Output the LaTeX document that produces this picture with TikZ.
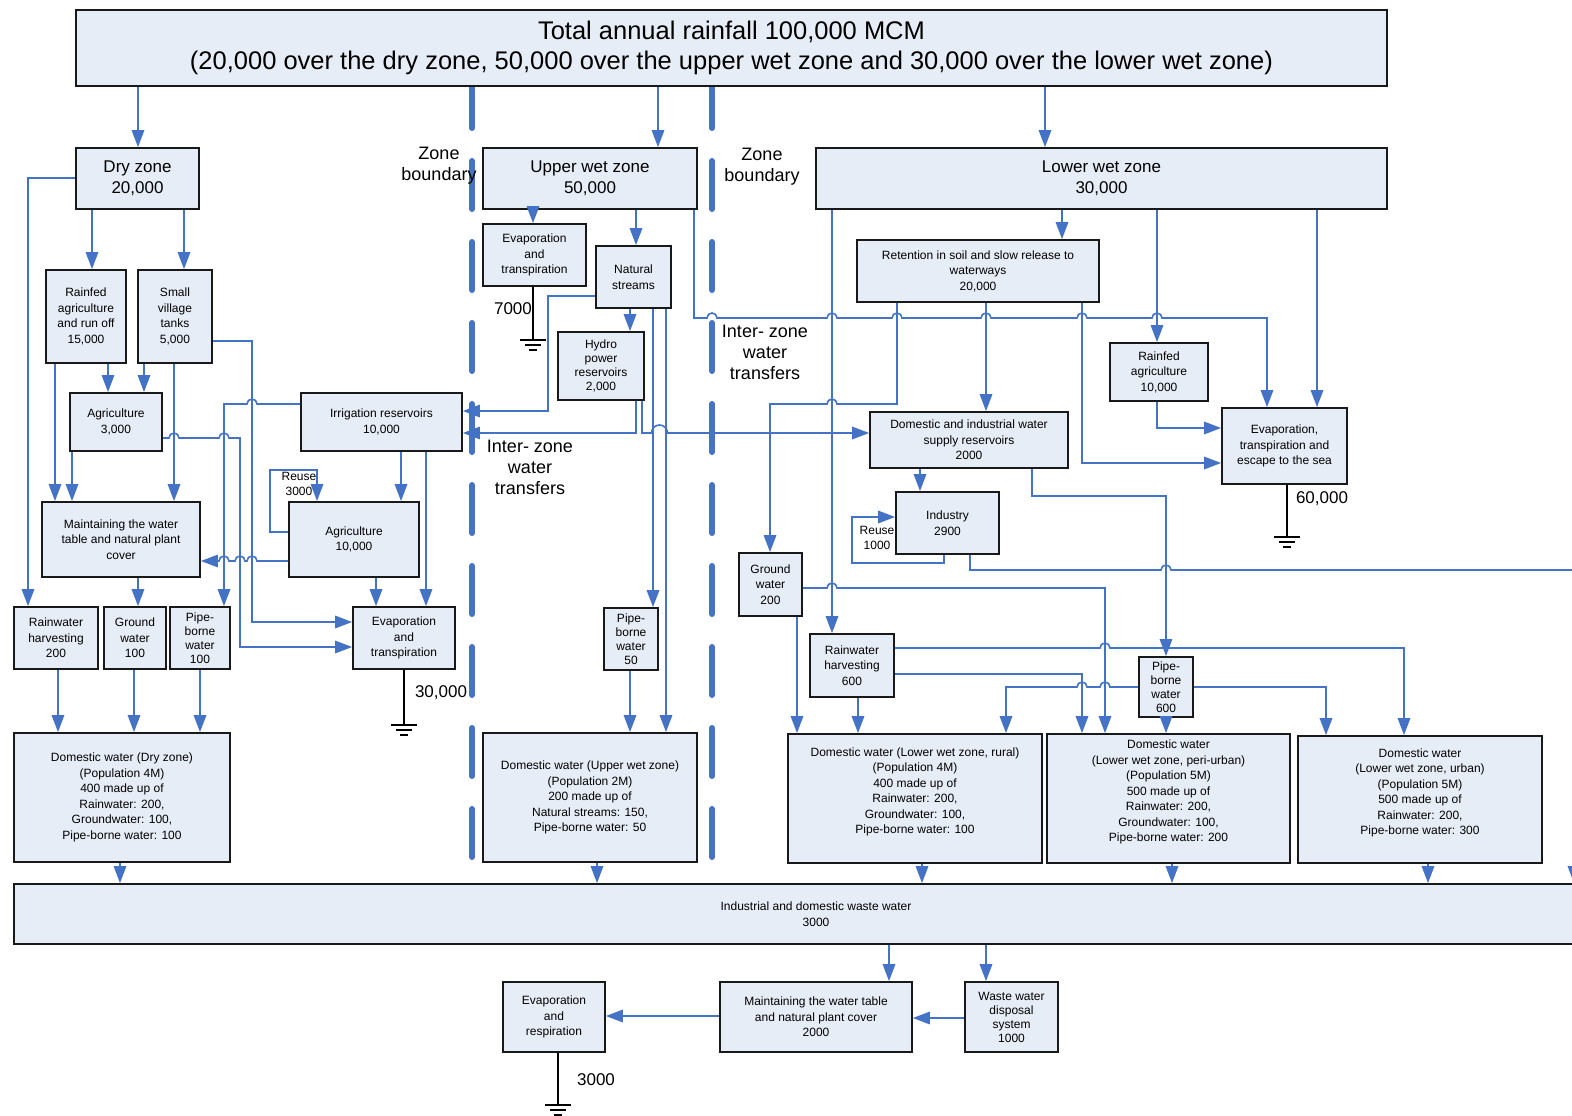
\documentclass[tikz,border=0pt]{standalone}
\usepackage{fontspec}
\setmainfont{Liberation Sans}
\usetikzlibrary{arrows.meta}
\definecolor{lineblue}{RGB}{68,114,196}
\definecolor{zoneblue}{RGB}{70,116,194}
\definecolor{boxfill}{RGB}{231,237,247}
\newcommand\wbox[7][]{\node[box,#1,minimum width={(#5-#3)*1pt},minimum height={(#6-#4)*1pt}] (#2) at ({(#3+#5)/2},{(#4+#6)/2}) {#7};}
\newcommand\gnd[1]{\draw[gline] ([xshift=-13pt]#1) -- ([xshift=13pt]#1) ([xshift=-8pt,yshift=-5pt]#1) -- ([xshift=8pt,yshift=-5pt]#1) ([xshift=-4pt,yshift=-10pt]#1) -- ([xshift=4pt,yshift=-10pt]#1);}
\tikzset{
  box/.style={draw=black!90, line width=1.8pt, fill=boxfill, inner sep=1pt, align=center, font=\fontsize{12}{15.5}\selectfont},
  tight/.style={font=\fontsize{12}{14}\selectfont},
  midtxt/.style={font=\fontsize{17}{21}\selectfont},
  arr/.style={draw=lineblue, line width=1.6pt, -{Triangle[length=17pt,width=12.5pt]}},
  gline/.style={draw=black, line width=1.5pt},
  zoneb/.style={draw=zoneblue, line width=6pt, line cap=round, dash pattern=on 48pt off 33pt, dash phase=6pt},
  lbl/.style={align=center, inner sep=0pt, font=\fontsize{18}{21}\selectfont},
  numlbl/.style={inner sep=0pt, font=\fontsize{17}{20}\selectfont},
  smlbl/.style={align=center, inner sep=0pt, font=\fontsize{12}{14.5}\selectfont},
  hr/.style 2 args={insert path={-- ({#1-5},#2) arc[start angle=180,end angle=360,radius=5]}},
  hl/.style 2 args={insert path={-- ({#1+5},#2) arc[start angle=0,end angle=-180,radius=5]}}
}
\begin{document}
\begin{tikzpicture}[x=1pt,y=-1pt]
\useasboundingbox (0,0) rectangle (1572,1116);
\fill[white] (0,0) rectangle (1572,1116);
\clip (0,0) rectangle (1572,1116);

% zone boundaries
\draw[zoneb] (472,86) -- (472,862);
\draw[zoneb] (712,86) -- (712,862);

% labels
\node[lbl] (zb1) at (439,166) {Zone\\boundary};
\node[lbl] (zb2) at (762,167) {Zone\\boundary};
\node[lbl] (iz1) at (530,467) {Inter- zone\\water\\transfers};
\node[lbl] (iz2) at (765,352) {Inter- zone\\water\\transfers};
\node[smlbl] (ru1) at (299,484) {Reuse\\3000};
\node[smlbl] (ru2) at (877,538) {Reuse\\1000};
\node[numlbl] (n30) at (441,693) {30,000};
\node[numlbl] (n7) at (513,309) {7000};
\node[numlbl] (n60) at (1322,499) {60,000};
\node[numlbl] (n3) at (596,1080) {3000};

% boxes
\wbox[font=\fontsize{25.5}{30}\selectfont]{top}{76}{10}{1387}{86}{Total annual rainfall 100,000 MCM\\(20,000 over the dry zone, 50,000 over the upper wet zone and 30,000 over the lower wet zone)}
\wbox[midtxt]{dry}{76}{148}{199}{209}{Dry zone\\20,000}
\wbox[midtxt]{upw}{483}{148}{697}{209}{Upper wet zone\\50,000}
\wbox[midtxt]{low}{816}{148}{1387}{209}{Lower wet zone\\30,000}
\wbox{rainf}{46}{270}{126}{363}{Rainfed\\agriculture\\and run off\\15,000}
\wbox{tanks}{138}{270}{212}{363}{Small\\village\\tanks\\5,000}
\wbox{ag3}{70}{393}{162}{451}{Agriculture\\3,000}
\wbox{maint}{42}{502}{200}{577}{Maintaining the water\\table and natural plant\\cover}
\wbox{rwh}{14}{607}{98}{669}{Rainwater\\harvesting\\200}
\wbox{gw}{104}{607}{166}{669}{Ground\\water\\100}
\wbox[tight]{pbw}{170}{607}{230}{669}{Pipe-\\borne\\water\\100}
\wbox{irr}{301}{393}{462}{451}{Irrigation reservoirs\\10,000}
\wbox{ag10}{289}{502}{419}{577}{Agriculture\\10,000}
\wbox{evd}{353}{607}{455}{669}{Evaporation\\and\\transpiration}
\wbox{domd}{14}{733}{230}{862}{Domestic water (Dry zone)\\(Population 4M)\\400 made up of\\Rainwater: 200,\\Groundwater: 100,\\Pipe-borne water: 100}
\wbox{evu}{483}{224}{586}{286}{Evaporation\\and\\transpiration}
\wbox{nat}{596}{246}{671}{308}{Natural\\streams}
\wbox[tight]{hyd}{558}{332}{644}{400}{Hydro\\power\\reservoirs\\2,000}
\wbox[tight]{pbu}{604}{608}{658}{670}{Pipe-\\borne\\water\\50}
\wbox{domu}{483}{733}{697}{862}{Domestic water (Upper wet zone)\\(Population 2M)\\200 made up of\\Natural streams: 150,\\Pipe-borne water: 50}
\wbox{ret}{857}{240}{1099}{302}{Retention in soil and slow release to\\waterways\\20,000}
\wbox{rfa}{1110}{343}{1208}{401}{Rainfed\\agriculture\\10,000}
\wbox{evl}{1222}{408}{1347}{484}{Evaporation,\\transpiration and\\escape to the sea}
\wbox{dir}{870}{412}{1068}{468}{Domestic and industrial water\\supply reservoirs\\2000}
\wbox{ind}{896}{492}{999}{554}{Industry\\2900}
\wbox{gwl}{739}{553}{802}{616}{Ground\\water\\200}
\wbox{rwl}{810}{634}{894}{697}{Rainwater\\harvesting\\600}
\wbox[tight]{pbl}{1139}{657}{1193}{717}{Pipe-\\borne\\water\\600}
\wbox{domr}{788}{734}{1042}{863}{Domestic water (Lower wet zone, rural)\\(Population 4M)\\400 made up of\\Rainwater: 200,\\Groundwater: 100,\\Pipe-borne water: 100\\ \mbox{}}
\wbox{domp}{1047}{734}{1290}{863}{Domestic water\\(Lower wet zone, peri-urban)\\(Population 5M)\\500 made up of\\Rainwater: 200,\\Groundwater: 100,\\Pipe-borne water: 200\\ \mbox{}}
\wbox{domurb}{1298}{736}{1542}{863}{Domestic water\\(Lower wet zone, urban)\\(Population 5M)\\500 made up of\\Rainwater: 200,\\Pipe-borne water: 300\\ \mbox{}}
\wbox{waste}{14}{884}{1618}{944}{Industrial and domestic waste water\\3000}
\wbox{evb}{503}{982}{605}{1052}{Evaporation\\and\\respiration}
\wbox{mtb}{720}{982}{912}{1052}{Maintaining the water table\\and natural plant cover\\2000}
\wbox[tight]{wds}{965}{982}{1058}{1052}{Waste water\\disposal\\system\\1000}

% grounds
\coordinate (g1) at (404,725);
\coordinate (g2) at (533,340);
\coordinate (g3) at (1287,537);
\coordinate (g4) at (558,1105);
\draw[gline] (evd.south -| 404,0) -- (g1); \gnd{g1}
\draw[gline] (evu.south -| 533,0) -- (g2); \gnd{g2}
\draw[gline] (evl.south -| 1287,0) -- (g3); \gnd{g3}
\draw[gline] (evb.south -| 558,0) -- (g4); \gnd{g4}

% top arrows
\draw[arr] (top.south -| 138,0) -- (dry.north -| 138,0);
\draw[arr] (top.south -| 658,0) -- (upw.north -| 658,0);
\draw[arr] (top.south -| 1045,0) -- (low.north -| 1045,0);

% dry zone
\draw[arr] (dry.south -| 92,0) -- (rainf.north -| 92,0);
\draw[arr] (dry.south -| 184,0) -- (tanks.north -| 184,0);
\draw[arr] (dry.west |- 0,178) -- (28,178) -- (rwh.north -| 28,0);
\draw[arr] (rainf.south -| 108,0) -- (ag3.north -| 108,0);
\draw[arr] (tanks.south -| 144,0) -- (ag3.north -| 144,0);
\draw[arr] (rainf.south -| 55,0) -- (maint.north -| 55,0);
\draw[arr] (ag3.south -| 72,0) -- (maint.north -| 72,0);
\draw[arr] (tanks.south -| 174,0) -- (maint.north -| 174,0);
\draw[arr] (maint.south -| 138,0) -- (gw.north -| 138,0);
\draw[arr] (irr.west |- 0,404) [hl={252}{404}] -- (224,404) -- (pbw.north -| 224,0);
\draw[arr] (ag3.east |- 0,438) [hr={174}{438}] [hr={224}{438}] -- (240,438) -- (240,647) -- (evd.west |- 0,647);
\draw[arr] (tanks.east |- 0,341) -- (252,341) -- (252,622) -- (evd.west |- 0,622);
\draw[arr] (ag10.west |- 0,561) [hl={252}{561}] [hl={240}{561}] [hl={224}{561}] -- (maint.east |- 0,561);
\draw[arr] (ag10.west |- 0,532) -- (270,532) -- (270,470) -- (317,470) -- (ag10.north -| 317,0);
\draw[arr] (irr.south -| 401,0) -- (ag10.north -| 401,0);
\draw[arr] (irr.south -| 426,0) -- (evd.north -| 426,0);
\draw[arr] (ag10.south -| 376,0) -- (evd.north -| 376,0);
\draw[arr] (rwh.south -| 58,0) -- (domd.north -| 58,0);
\draw[arr] (gw.south -| 134,0) -- (domd.north -| 134,0);
\draw[arr] (pbw.south -| 200,0) -- (domd.north -| 200,0);

% upper wet zone
\draw[arr] (upw.south -| 533,0) -- (evu.north -| 533,0);
\draw[arr] (upw.south -| 636,0) -- (nat.north -| 636,0);
\draw[arr] (nat.south -| 630,0) -- (hyd.north -| 630,0);
\draw[arr] (nat.west |- 0,296) -- (548,296) -- (548,411) -- (irr.east |- 0,411);
\draw[arr] (hyd.south -| 636,0) -- (636,433) -- (irr.east |- 0,433);
\draw[arr] (hyd.south -| 642,0) -- (642,433) -- (651.5,433) arc[start angle=180,end angle=360,radius=8] -- (dir.west |- 0,433);
\draw[arr] (nat.south -| 653,0) -- (pbu.north -| 653,0);
\draw[arr] (nat.south -| 666,0) -- (domu.north -| 666,0);
\draw[arr] (pbu.south -| 630,0) -- (domu.north -| 630,0);
\draw[arr] (upw.south -| 694,0) -- (694,318) [hr={712}{318}] [hr={832}{318}] [hr={897}{318}] [hr={986}{318}] [hr={1082}{318}] [hr={1157}{318}] -- (1267,318) -- (evl.north -| 1267,0);

% lower wet zone
\draw[arr] (low.south -| 1062,0) -- (ret.north -| 1062,0);
\draw[arr] (low.south -| 832,0) -- (rwl.north -| 832,0);
\draw[arr] (low.south -| 1157,0) -- (rfa.north -| 1157,0);
\draw[arr] (low.south -| 1317,0) -- (evl.north -| 1317,0);
\draw[arr] (ret.south -| 897,0) -- (897,404) [hl={832}{404}] -- (770,404) -- (gwl.north -| 770,0);
\draw[arr] (ret.south -| 986,0) -- (dir.north -| 986,0);
\draw[arr] (ret.south -| 1082,0) -- (1082,463) -- (evl.west |- 0,463);
\draw[arr] (rfa.south -| 1157,0) -- (1157,428) -- (evl.west |- 0,428);
\draw[arr] (dir.south -| 920,0) -- (ind.north -| 920,0);
\draw[arr] (dir.south -| 1032,0) -- (1032,496) -- (1166,496) -- (pbl.north -| 1166,0);
\draw[arr] (ind.south -| 944,0) -- (944,563) -- (852,563) -- (852,517) -- (ind.west |- 0,517);
\draw[arr] (ind.south -| 970,0) -- (970,570) [hr={1166}{570}] -- (1574,570) -- (waste.north -| 1574,0);
\draw[arr] (gwl.south -| 797,0) -- (domr.north -| 797,0);
\draw[arr] (gwl.east |- 0,588) [hr={832}{588}] -- (1105,588) -- (domp.north -| 1105,0);
\draw[arr] (rwl.south -| 858,0) -- (domr.north -| 858,0);
\draw[arr] (rwl.east |- 0,648) [hr={1105}{648}] -- (1404,648) -- (domurb.north -| 1404,0);
\draw[arr] (rwl.east |- 0,674) -- (1082,674) -- (domp.north -| 1082,0);
\draw[arr] (pbl.west |- 0,687) [hl={1105}{687}] [hl={1082}{687}] -- (1006,687) -- (domr.north -| 1006,0);
\draw[arr] (pbl.south -| 1166,0) -- (domp.north -| 1166,0);
\draw[arr] (pbl.east |- 0,687) -- (1326,687) -- (domurb.north -| 1326,0);

% domestic to waste
\draw[arr] (domd.south -| 120,0) -- (waste.north -| 120,0);
\draw[arr] (domu.south -| 597,0) -- (waste.north -| 597,0);
\draw[arr] (domr.south -| 922,0) -- (waste.north -| 922,0);
\draw[arr] (domp.south -| 1172,0) -- (waste.north -| 1172,0);
\draw[arr] (domurb.south -| 1428,0) -- (waste.north -| 1428,0);

% bottom
\draw[arr] (waste.south -| 889,0) -- (mtb.north -| 889,0);
\draw[arr] (waste.south -| 986,0) -- (wds.north -| 986,0);
\draw[arr] (mtb.west |- 0,1016) -- (evb.east |- 0,1016);
\draw[arr] (wds.west |- 0,1018) -- (mtb.east |- 0,1018);
\end{tikzpicture}
\end{document}
